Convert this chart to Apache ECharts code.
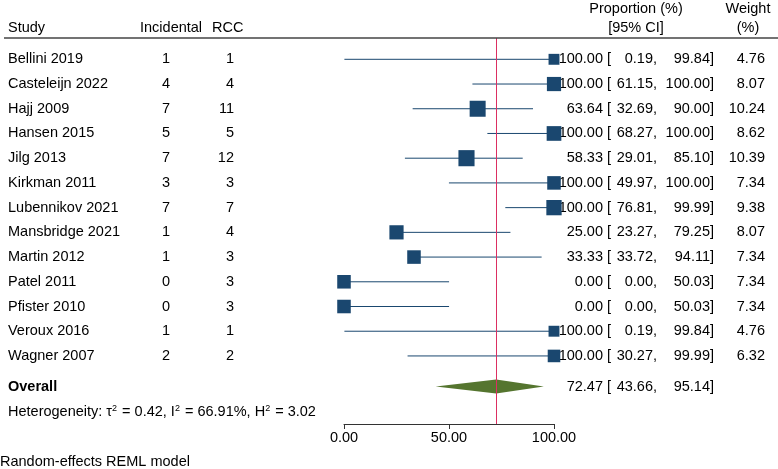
<!DOCTYPE html>
<html><head><meta charset="utf-8">
<script src="https://cdn.jsdelivr.net/npm/echarts@6/dist/echarts.min.js"></script>
<style>html,body{margin:0;padding:0;background:#fff}#c{width:778px;height:469px}</style>
</head><body><div id="c"></div><script>
const studies = ['Bellini 2019','Casteleijn 2022','Hajj 2009','Hansen 2015','Jilg 2013','Kirkman 2011','Lubennikov 2021','Mansbridge 2021','Martin 2012','Patel 2011','Pfister 2010','Veroux 2016','Wagner 2007'];
const incidental = [1,4,7,5,7,3,7,1,1,0,0,1,2];
const rcc = [1,4,11,5,12,3,7,4,3,3,3,1,2];
const estimate = [100,100,63.64,100,58.33,100,100,25,33.33,0,0,100,100];
const lower = [0.19,61.15,32.69,68.27,29.01,49.97,76.81,23.27,33.72,0,0,0.19,30.27];
const upper = [99.84,100,90,100,85.10,100,99.99,79.25,94.11,50.03,50.03,99.84,99.99];
const weight = [4.76,8.07,10.24,8.62,10.39,7.34,9.38,8.07,7.34,7.34,7.34,4.76,6.32];
const overallEstimate = 72.47;
const overallLower = 43.66;
const overallUpper = 95.14;
const tau2 = 0.42, i2 = 66.91, h2 = 3.02;
const xTicks = [0, 50, 100];

const FONT = '"Liberation Sans", Arial, Helvetica, sans-serif';
const FS = 14.5;
const TXT = '#000';
const OVERALL_ROW = 13.24, HET_ROW = 14.26;
const f2 = v => v.toFixed(2);

function txt(x, y, s, align, extra) {
  return {type:'text', silent:true, style:Object.assign({x:x, y:y, text:s, fill:TXT, font:FS + 'px ' + FONT, textAlign:align || 'left', textVerticalAlign:'middle'}, extra || {})};
}
function gtxt(x, y, s, align) {
  return {type:'text', x:x, y:y, silent:true, style:{text:s, fill:TXT, font:FS + 'px ' + FONT, textAlign:align, textVerticalAlign:'middle'}};
}

const chart = echarts.init(document.getElementById('c'), null, {renderer:'canvas'});
chart.setOption({
  animation:false,
  backgroundColor:'#fff',
  grid:{left:344, right:224, top:38, bottom:45, containLabel:false},
  xAxis:{type:'value', min:xTicks[0], max:xTicks[xTicks.length-1], interval:xTicks[1]-xTicks[0],
    splitLine:{show:false},
    axisLine:{show:true, onZero:false, lineStyle:{color:'#333', width:1}},
    axisTick:{show:true, length:5, lineStyle:{color:'#333'}},
    axisLabel:{formatter:v => f2(v), color:TXT, fontSize:FS, fontFamily:FONT, margin:6, showMinLabel:true, showMaxLabel:true}},
  yAxis:{type:'value', inverse:true, min:-0.862, max:14.753, show:false},
  graphic:[
    {type:'line', shape:{x1:4, y1:38, x2:778, y2:38}, style:{stroke:'#444', lineWidth:1.5}, z:10},
    gtxt(8, 28, 'Study', 'left'),
    gtxt(140, 28, 'Incidental', 'left'),
    gtxt(212, 28, 'RCC', 'left'),
    gtxt(636, 9, 'Proportion (%)', 'center'),
    gtxt(636, 28, '[95% CI]', 'center'),
    gtxt(748, 9, 'Weight', 'center'),
    gtxt(748, 28, '(%)', 'center'),
    gtxt(0, 462, 'Random-effects REML model', 'left')
  ],
  series:[
    { // confidence interval lines
      type:'custom', clip:false, z:2,
      data:estimate.map((e,i) => [lower[i], upper[i], i]),
      renderItem:(params, api) => {
        const a = api.coord([api.value(0), api.value(2)]);
        const b = api.coord([api.value(1), api.value(2)]);
        return {type:'line', shape:{x1:a[0], y1:a[1], x2:b[0], y2:b[1]}, style:{stroke:'#1a476f', lineWidth:1}};
      }
    },
    { // overall diamond and summary text
      type:'custom', clip:false, z:2,
      data:[[overallLower, overallEstimate, overallUpper, OVERALL_ROW]],
      renderItem:(params, api) => {
        const row = api.value(3);
        const l = api.coord([api.value(0), row]);
        const m = api.coord([api.value(1), row]);
        const r = api.coord([api.value(2), row]);
        const y = l[1], h = 7;
        const hy = api.coord([0, HET_ROW])[1];
        return {type:'group', children:[
          {type:'polygon', shape:{points:[[l[0],y],[m[0],y-h],[r[0],y],[m[0],y+h]]}, style:{fill:'#55752f'}},
          txt(8, y, 'Overall', 'left', {font:'bold ' + FS + 'px ' + FONT}),
          txt(603, y, f2(overallEstimate), 'right'),
          txt(607, y, '[', 'left'),
          txt(657, y, f2(overallLower) + ',', 'right'),
          txt(714, y, f2(overallUpper) + ']', 'right'),
          {type:'text', silent:true, style:{x:8, y:hy, textAlign:'left', textVerticalAlign:'middle',
            text:'Heterogeneity: τ{s|2} = ' + f2(tau2) + ', I{s|2} = ' + f2(i2) + '%, H{s|2} = ' + f2(h2),
            fill:TXT, font:FS + 'px ' + FONT,
            rich:{s:{fontSize:9, fontFamily:FONT, verticalAlign:'top', padding:[0,1,6,0], fill:TXT}}}}
        ]};
      }
    },
    { // weighted boxes + overall reference line
      type:'scatter', z:5, symbol:'rect',
      data:estimate.map((e,i) => [e, i, weight[i]]),
      symbolSize:d => 5 * Math.sqrt(d[2]),
      itemStyle:{color:'#1a476f', opacity:1},
      markLine:{silent:true, symbol:'none', label:{show:false},
        lineStyle:{color:'#dc2f62', type:'solid', width:1},
        data:[{xAxis:overallEstimate}]}
    },
    { // table text columns
      type:'custom', clip:false, z:4,
      data:studies.map((s,i) => [i]),
      renderItem:(params, api) => {
        const i = params.dataIndex;
        const y = api.coord([0, api.value(0)])[1];
        return {type:'group', children:[
          txt(8, y, studies[i]),
          txt(170, y, String(incidental[i]), 'right'),
          txt(234, y, String(rcc[i]), 'right'),
          txt(603, y, f2(estimate[i]), 'right'),
          txt(607, y, '[', 'left'),
          txt(657, y, f2(lower[i]) + ',', 'right'),
          txt(714, y, f2(upper[i]) + ']', 'right'),
          txt(765, y, f2(weight[i]), 'right')
        ]};
      }
    }
  ]
});
</script></body></html>
